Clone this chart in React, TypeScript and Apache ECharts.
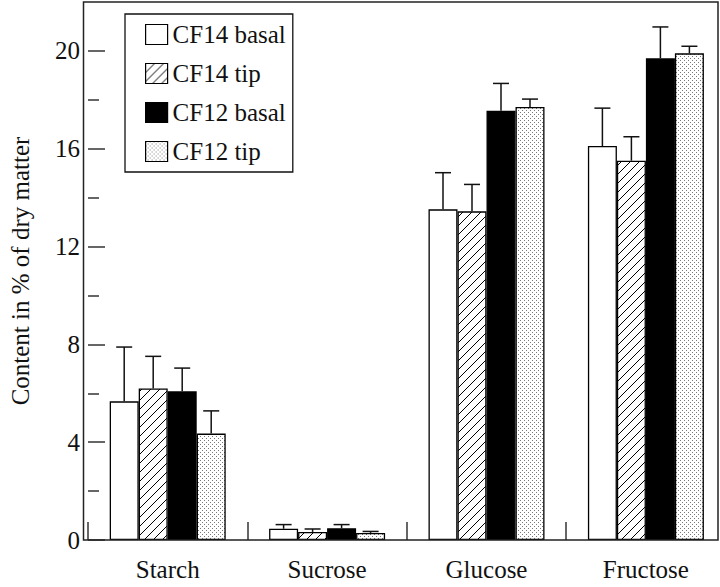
import React, { useEffect, useRef } from "react";
import * as echarts from "echarts";

const categories = ["Starch", "Sucrose", "Glucose", "Fructose"];
const seriesNames = ["CF14 basal", "CF14 tip", "CF12 basal", "CF12 tip"];

const cf14Basal = [5.67, 0.46, 13.52, 16.11];
const cf14BasalErr = [2.22, 0.17, 1.5, 1.55];
const cf14Tip = [6.2, 0.33, 13.44, 15.51];
const cf14TipErr = [1.31, 0.12, 1.1, 0.98];
const cf12Basal = [6.08, 0.48, 17.55, 19.7];
const cf12BasalErr = [0.95, 0.15, 1.12, 1.28];
const cf12Tip = [4.35, 0.29, 17.71, 19.9];
const cf12TipErr = [0.93, 0.06, 0.32, 0.29];

const majorTicks = [0, 4, 8, 12, 16, 20];
const minorTicks = [2, 6, 10, 14, 18];

const FONT = "Liberation Serif";
const BAR_W = 29;

function hatchCanvas(): HTMLCanvasElement {
  const c = document.createElement("canvas");
  c.width = 9;
  c.height = 9;
  const ctx = c.getContext("2d")!;
  ctx.fillStyle = "#fff";
  ctx.fillRect(0, 0, 9, 9);
  ctx.strokeStyle = "#000";
  ctx.lineWidth = 1;
  ctx.beginPath();
  ctx.moveTo(-1, 10);
  ctx.lineTo(10, -1);
  ctx.moveTo(-2, 2);
  ctx.lineTo(2, -2);
  ctx.moveTo(7, 11);
  ctx.lineTo(11, 7);
  ctx.stroke();
  return c;
}

function dotCanvas(): HTMLCanvasElement {
  const c = document.createElement("canvas");
  c.width = 4;
  c.height = 4;
  const ctx = c.getContext("2d")!;
  ctx.fillStyle = "#fff";
  ctx.fillRect(0, 0, 4, 4);
  ctx.fillStyle = "#777";
  ctx.fillRect(0, 0, 1, 1);
  ctx.fillRect(2, 2, 1, 1);
  return c;
}

export default function App() {
  const ref = useRef<HTMLDivElement>(null);

  useEffect(() => {
    if (!ref.current) return;
    const chart = echarts.init(ref.current, undefined, { renderer: "svg" });

    const hatch = hatchCanvas();
    const dots = dotCanvas();
    const fills: any[] = [
      "#ffffff",
      { image: hatch, repeat: "repeat", imageWidth: 9, imageHeight: 9 },
      "#000000",
      { image: dots, repeat: "repeat", imageWidth: 4, imageHeight: 4 },
    ];
    const values = [cf14Basal, cf14Tip, cf12Basal, cf12Tip];
    const errs = [cf14BasalErr, cf14TipErr, cf12BasalErr, cf12TipErr];

    const barSeries = seriesNames.map((name, i) => ({
      name,
      type: "bar",
      yAxisIndex: 0,
      barWidth: BAR_W,
      barGap: "0%",
      data: values[i],
      itemStyle: { color: fills[i], borderColor: "#000", borderWidth: 1.3 },
      z: 2,
    }));

    const errSeries = seriesNames.map((name, i) => ({
      name: "err " + name,
      type: "custom",
      yAxisIndex: 0,
      z: 3,
      encode: { x: 0, y: 1 },
      data: categories.map((_, k) => [k, values[i][k], errs[i][k]]),
      renderItem: (_params: any, api: any) => {
        const cat = api.value(0);
        const v = api.value(1);
        const e = api.value(2);
        const base = api.coord([cat, v]);
        const top = api.coord([cat, v + e]);
        const x = base[0] + (i - 1.5) * BAR_W;
        const st = { stroke: "#111", lineWidth: 1.5 };
        return {
          type: "group",
          children: [
            { type: "line", shape: { x1: x, y1: base[1], x2: x, y2: top[1] }, style: st },
            { type: "line", shape: { x1: x - 8, y1: top[1], x2: x + 8, y2: top[1] }, style: st },
          ],
        };
      },
    }));

    chart.setOption({
      animation: false,
      backgroundColor: "#fff",
      textStyle: { fontFamily: FONT },
      grid: { left: 84, top: 2, width: 641.6, height: 538 },
      legend: {
        data: seriesNames,
        orient: "vertical",
        left: 125,
        top: 14,
        padding: [8, 7, 8, 20],
        itemGap: 14,
        itemWidth: 22,
        itemHeight: 20,
        itemTextGap: 9,
        icon: "rect",
        backgroundColor: "#fff",
        borderColor: "#111",
        borderWidth: 1.3,
        itemStyle: { borderColor: "#000", borderWidth: 1.2 },
        textStyle: { fontFamily: FONT, fontSize: 25, color: "#111" },
        selectedMode: false,
        z: 10,
      },
      xAxis: {
        type: "category",
        data: categories,
        axisLine: { show: false },
        axisTick: {
          show: true,
          inside: true,
          length: 18,
          alignWithLabel: false,
          interval: 0,
          lineStyle: { color: "#333", width: 1.5 },
        },
        axisLabel: { fontFamily: FONT, fontSize: 25, color: "#111", margin: 17, interval: 0 },
        splitLine: { show: false },
      },
      yAxis: [
        {
          type: "value",
          min: 0,
          max: 22,
          interval: 2,
          position: "left",
          name: "Content in % of dry matter",
          nameLocation: "middle",
          nameGap: 55,
          nameTextStyle: { fontFamily: FONT, fontSize: 25, color: "#111" },
          axisLine: { show: false },
          axisTick: {
            show: true,
            inside: true,
            length: 17,
            customValues: majorTicks,
            lineStyle: { color: "#333", width: 1.5 },
          },
          axisLabel: {
            fontFamily: FONT,
            fontSize: 25,
            color: "#111",
            margin: 8,
            customValues: majorTicks,
          },
          splitLine: { show: false },
        },
        {
          type: "value",
          min: 0,
          max: 22,
          interval: 2,
          position: "left",
          axisLine: { show: false },
          axisTick: {
            show: true,
            inside: true,
            length: 11,
            customValues: minorTicks,
            lineStyle: { color: "#333", width: 1.5 },
          },
          axisLabel: { show: false },
          splitLine: { show: false },
        },
      ],
      graphic: [
        {
          type: "rect",
          shape: { x: 83.5, y: 2, width: 634.5, height: 538 },
          style: { fill: "none", stroke: "#222", lineWidth: 1.5 },
          z: 5,
          silent: true,
        },
      ],
      series: [...barSeries, ...errSeries],
    });

    return () => chart.dispose();
  }, []);

  return (
    <div
      style={{
        position: "fixed",
        left: 0,
        top: 0,
        width: 720,
        height: 587,
        overflow: "hidden",
        background: "#fff",
      }}
    >
      <div ref={ref} style={{ width: 730, height: 587 }} />
    </div>
  );
}
